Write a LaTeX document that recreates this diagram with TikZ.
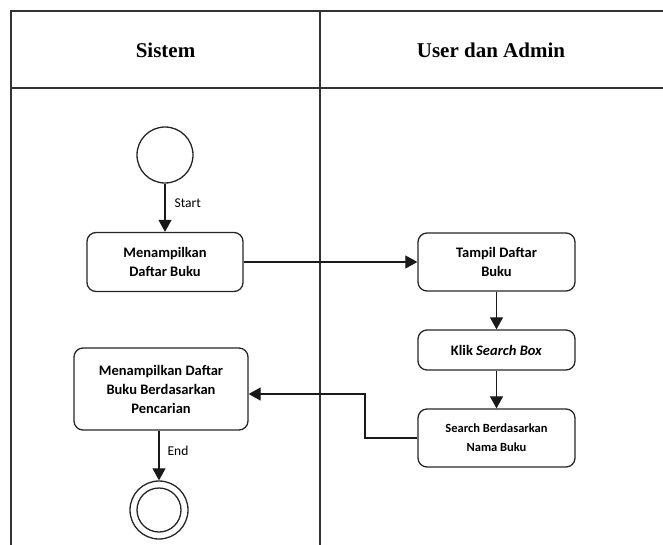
\documentclass[tikz,border=0pt]{standalone}
\usepackage{fontspec}
\setmainfont{Carlito}
\newfontfamily\headfont{Liberation Serif}
\usetikzlibrary{arrows.meta,positioning}
\begin{document}
\begin{tikzpicture}[x=1pt,y=-1pt,
  lane/.style={draw=black!80,line width=1.6pt},
  act/.style={draw=black!85,line width=1.3pt,rounded corners=9pt,align=center,
    font=\fontsize{14.5}{19}\selectfont\bfseries,inner sep=0pt},
  flow/.style={draw=black!90,line width=1.2pt,-{Triangle[length=12pt,width=13pt]}},
  lbl/.style={font=\fontsize{13.5}{15}\selectfont,inner sep=2pt},
  head/.style={font=\headfont\fontsize{21}{24}\selectfont\bfseries}]
\useasboundingbox (0,0) rectangle (663,544);
% swimlane frame
\draw[lane] (11,560) -- (11,11) -- (670,11);
\draw[lane] (11,88) -- (670,88);
\draw[lane] (320,11) -- (320,560);
\node[head] (hSis) at (165.5,50) {Sistem};
\node[head] (hUser) at (491,50) {User dan Admin};
% start and end
\node[circle,draw=black!85,line width=1.3pt,minimum size=56pt,inner sep=0pt] (start) at (165,155) {};
\node[circle,draw=black!85,line width=1.3pt,minimum size=58pt,inner sep=0pt] (stop) at (159,510) {};
\node[circle,draw=black!85,line width=1.3pt,minimum size=44pt,inner sep=0pt] (stopin) at (159,510) {};
% activities
\node[act,minimum width=156pt,minimum height=59pt] (a1) at (165,262) {Menampilkan\\Daftar Buku};
\node[act,minimum width=157pt,minimum height=58pt] (a2) at (496.5,262) {Tampil Daftar\\Buku};
\node[act,minimum width=157pt,minimum height=40pt] (a3) at (496.5,350) {Klik \textit{Search Box}};
\node[act,minimum width=157pt,minimum height=58pt,font=\fontsize{12.5}{19}\selectfont\bfseries] (a4) at (496.5,438) {Search Berdasarkan\\Nama Buku};
\node[act,minimum width=174pt,minimum height=82pt] (a5) at (161,389) {Menampilkan Daftar\\Buku Berdasarkan\\Pencarian};
% flows
\draw[flow] (start) -- node[lbl,right,xshift=7pt,pos=0.4] (lStart) {Start} (a1);
\draw[flow] (a1) -- (a2);
\draw[flow] (a2) -- (a3);
\draw[flow] (a3) -- (a4);
\coordinate (bend1) at (365,438);
\coordinate (bend2) at (365,394);
\draw[flow] (a4.west) -- (bend1) -- (bend2) -- (a5.east |- bend2);
\draw[flow] (a5.south -| stop) -- node[lbl,right,xshift=6pt,pos=0.4] (lEnd) {End} (stop);
\end{tikzpicture}
\end{document}
